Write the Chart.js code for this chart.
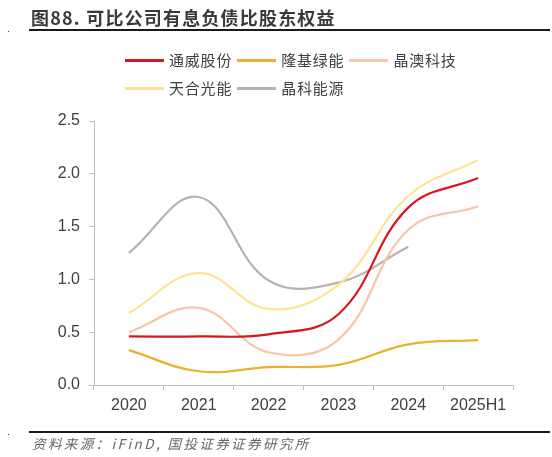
<!DOCTYPE html>
<html>
<head>
<meta charset="utf-8">
<script src="https://cdn.jsdelivr.net/npm/chart.js@4/dist/chart.umd.min.js"></script>
<style>
    html, body { margin: 0; padding: 0; background: #fff; }
    #wrap { position: relative; width: 552px; height: 457px; overflow: hidden; }
    #chart { position: absolute; left: 0; top: 0; }
    .title {
        position: absolute; left: 31px; top: 4px;
        font: bold 18px "Noto Sans CJK SC", sans-serif; color: #3a3a3a; letter-spacing: 1.2px;
    }
    .rule { position: absolute; left: 29px; width: 521px; height: 2px; background: #1a1a1a; }
    .dot { position: absolute; left: 8px; width: 1px; height: 1px; background: #444; }
    .source {
        position: absolute; left: 32px; top: 433px;
        font: italic 13.5px "Noto Sans CJK SC", sans-serif; color: #666; letter-spacing: 2.4px;
    }
    #legend { position: absolute; left: 125px; top: 49px; width: 340px; display: flex; flex-wrap: wrap; }
    #legend .item { display: flex; align-items: center; margin: 0 5px 6px 0; height: 22px; line-height: 22px; }
    #legend .swatch { width: 39px; height: 3px; margin-right: 5px; }
    #legend .label { font: 15px/22px "Noto Sans CJK SC", sans-serif; color: #404040; letter-spacing: 0.8px; }
</style>
</head>
<body>
<div id="wrap">
    <canvas id="chart" width="552" height="457"></canvas>
    <div class="title">图88. 可比公司有息负债比股东权益</div>
    <div class="rule" style="top:29px"></div>
    <div class="dot" style="top:31px"></div>
    <div id="legend"></div>
    <div class="rule" style="top:431px"></div>
    <div class="dot" style="top:434px"></div>
    <div class="source">资料来源：iFinD, 国投证券证券研究所</div>
</div>
<script>
// Data kategori dan seri
const years = ['2020', '2021', '2022', '2023', '2024', '2025H1'];
const tongwei = [0.46, 0.46, 0.48, 0.67, 1.68, 1.96];
const longi = [0.33, 0.13, 0.17, 0.19, 0.385, 0.425];
const jaSolar = [0.50, 0.73, 0.31, 0.43, 1.47, 1.69];
const trina = [0.68, 1.06, 0.72, 0.95, 1.79, 2.13];
const jinko = [1.25, 1.78, 0.99, 0.97, 1.31, null];
const yTicks = [0, 0.5, 1.0, 1.5, 2.0, 2.5];

const seriesNames = ['通威股份', '隆基绿能', '晶澳科技', '天合光能', '晶科能源'];
const seriesColors = ['#d9161e', '#e9b22e', '#f7c6aa', '#fee394', '#bbb0b2'];
const seriesData = [tongwei, longi, jaSolar, trina, jinko];

// Legend HTML supaya baris kiri rata seperti gambar
const htmlLegend = {
    id: 'htmlLegend',
    afterUpdate(chart) {
        const box = document.getElementById('legend');
        box.innerHTML = '';
        const items = chart.options.plugins.legend.labels.generateLabels(chart);
        items.forEach(item => {
            const el = document.createElement('span');
            el.className = 'item';
            el.innerHTML = `<span class="swatch" style="background:${item.strokeStyle}"></span><span class="label">${item.text}</span>`;
            box.appendChild(el);
        });
    }
};

const ctx = document.getElementById('chart').getContext('2d');
new Chart(ctx, {
    type: 'line',
    data: {
        labels: years,
        datasets: seriesNames.map((name, i) => ({
            label: name,
            data: seriesData[i],
            borderColor: seriesColors[i],
            backgroundColor: seriesColors[i],
            borderWidth: 2.2,
            pointRadius: 0,
            tension: 0.4,
            fill: false
        }))
    },
    options: {
        responsive: false,
        animation: false,
        layout: { padding: { top: 121, left: 10, right: 39, bottom: 0 } },
        scales: {
            x: {
                offset: true,
                afterFit(scale) { scale.height = 72; },
                grid: { offset: true, drawOnChartArea: false, drawTicks: true, tickLength: 5, color: '#bfbfbf' },
                border: { display: true, color: '#bfbfbf', width: 1 },
                ticks: {
                    padding: 6,
                    color: '#404040',
                    font: { family: 'Liberation Sans, Arial, sans-serif', size: 16 }
                }
            },
            y: {
                min: 0,
                max: 2.5,
                afterFit(scale) { scale.width = 84; },
                afterBuildTicks(scale) { scale.ticks = yTicks.map(v => ({ value: v })); },
                grid: { drawOnChartArea: false, drawTicks: true, tickLength: 5, color: '#bfbfbf' },
                border: { display: true, color: '#bfbfbf', width: 1 },
                ticks: {
                    padding: 9,
                    color: '#404040',
                    font: { family: 'Liberation Sans, Arial, sans-serif', size: 16 },
                    callback: value => value.toFixed(1)
                }
            }
        },
        plugins: {
            legend: { display: false },
            tooltip: { enabled: false }
        }
    },
    plugins: [htmlLegend]
});
</script>
</body>
</html>
